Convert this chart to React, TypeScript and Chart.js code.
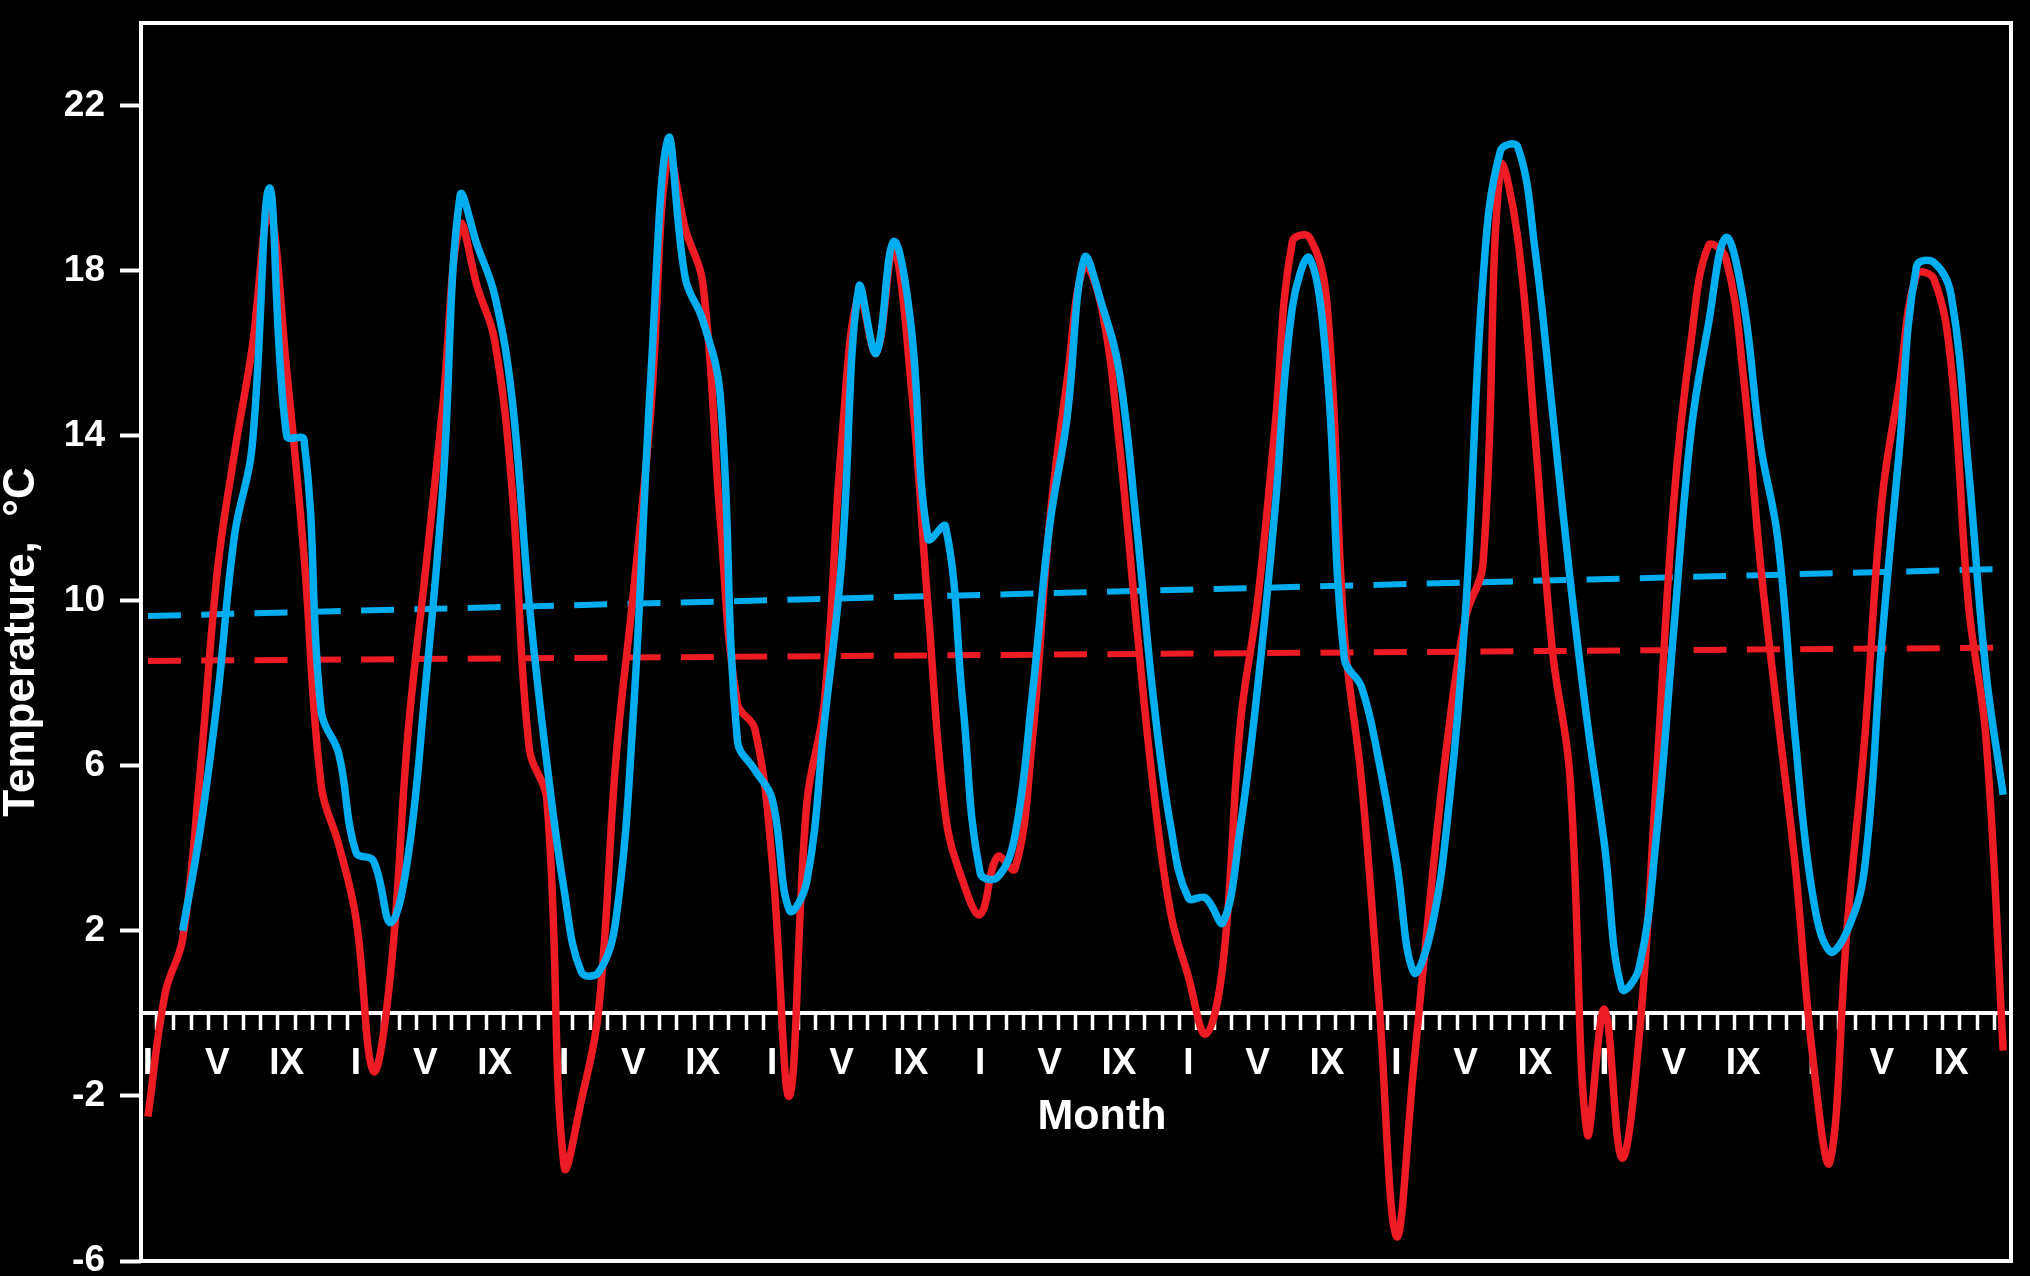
import React, { useEffect, useRef } from 'react';
import { Chart, registerables } from 'chart.js';

Chart.register(...registerables);

// ---- data ----
const monthIndex: number[] = Array.from({ length: 108 }, (_, i) => i);
const monthTickLabels = ['I', '', '', '', 'V', '', '', '', 'IX', '', '', ''];
const yTickValues = [-6, -2, 2, 6, 10, 14, 18, 22];
const xAxisTitle = 'Month';
const yAxisTitle = 'Temperature,  °C';

const redSeries: number[] = [
  -2.5, 0.5, 1.8, 5.8, 10.7, 13.6, 16.1, 19.4, 15.6, 11.1, 5.5, 4.1,
  2.3, -1.4, 1.0, 6.8, 10.7, 14.7, 19.1, 17.6, 16.3, 12.7, 6.4, 5.2,
  -3.7, -2.1, 0.1, 6.2, 10.2, 14.6, 20.8, 19.0, 17.7, 12.0, 7.5, 6.9,
  3.7, -2.0, 5.1, 7.5, 13.8, 17.4, 16.0, 18.5, 15.3, 9.8, 4.8, 3.2,
  2.4, 3.8, 3.5, 6.6, 11.9, 15.3, 18.1, 17.1, 13.9, 9.5, 5.4, 2.4,
  0.9, -0.5, 1.2, 7.0, 10.0, 14.2, 18.7, 18.8, 17.2, 9.2, 5.6, 0.3,
  -5.4, -1.3, 3.0, 6.8, 9.6, 10.9, 20.5, 18.8, 14.0, 8.8, 5.8, -2.9,
  0.1, -3.5, -0.6, 5.7, 12.4, 16.3, 18.6, 18.3, 15.5, 10.9, 7.2, 3.6,
  -1.0, -3.6, 2.1, 6.6, 12.4, 15.2, 17.9, 17.8, 15.7, 9.9, 6.7, -0.9,
];

const blueSeries: (number | null)[] = [
  null, null, 2.0, 4.4, 7.6, 11.6, 13.7, 20.0, 14.0, 13.9, 7.3, 6.3,
  3.9, 3.7, 2.2, 3.8, 7.9, 12.7, 19.8, 18.6, 17.4, 14.9, 9.9, 6.1,
  3.0, 1.0, 1.0, 2.3, 7.3, 15.4, 21.2, 17.8, 16.8, 15.0, 6.6, 5.9,
  5.2, 2.5, 3.2, 7.0, 10.9, 17.6, 16.0, 18.7, 16.7, 11.5, 11.8, 7.5,
  3.4, 3.3, 4.3, 7.7, 11.8, 14.4, 18.3, 17.2, 15.6, 11.9, 7.6, 4.5,
  2.8, 2.8, 2.2, 4.5, 7.9, 12.2, 17.1, 18.3, 15.6, 8.6, 7.9, 6.1,
  3.7, 1.0, 2.0, 4.9, 9.8, 17.8, 20.9, 21.0, 18.5, 14.6, 10.6, 7.1,
  4.1, 0.6, 1.1, 4.3, 9.3, 14.1, 16.7, 18.8, 17.3, 13.8, 11.5, 6.7,
  2.9, 1.5, 2.0, 3.5, 9.0, 13.6, 18.1, 18.2, 17.4, 13.2, 8.3, 5.3,
];

const trendMonths = [0, 107];
const redTrend = [8.54, 8.86];
const blueTrend = [9.63, 10.77];

const RED = '#ED1C24';
const BLUE = '#00AEEF';
const WHITE = '#FFFFFF';
const FONT = '"Liberation Sans", Arial, Helvetica, sans-serif';

const toPoints = (xs: number[], ys: (number | null)[]) =>
  xs.map((x, i) => ({ x, y: ys[i] })).filter((p) => p.y !== null && p.y !== undefined);

const framePlugin = {
  id: 'frame',
  beforeDatasetsDraw(chart: any) {
    const { ctx, chartArea } = chart;
    ctx.save();
    ctx.strokeStyle = WHITE;
    ctx.lineWidth = 4;
    ctx.strokeRect(chartArea.left, chartArea.top, chartArea.right - chartArea.left, chartArea.bottom - chartArea.top);
    ctx.restore();
  },
};

const monthTitlePlugin = {
  id: 'monthTitle',
  afterDraw(chart: any) {
    const { ctx, chartArea, scales } = chart;
    const y0 = scales.y.getPixelForValue(0);
    ctx.save();
    ctx.font = `bold 43px ${FONT}`;
    ctx.fillStyle = WHITE;
    ctx.textAlign = 'center';
    ctx.textBaseline = 'middle';
    ctx.fillText(xAxisTitle, (chartArea.left + chartArea.right) / 2 + 26, y0 + 104);
    ctx.restore();
  },
};

export default function App() {
  const canvasRef = useRef<HTMLCanvasElement | null>(null);

  useEffect(() => {
    if (!canvasRef.current) return;
    Chart.defaults.font.family = FONT;
    const chart = new Chart(canvasRef.current, {
      type: 'line',
      data: {
        datasets: [
          {
            label: 'Blue',
            data: toPoints(monthIndex, blueSeries),
            borderColor: BLUE,
            borderWidth: 7.5,
            pointRadius: 0,
            tension: 0.4,
            fill: false,
            order: 0,
          },
          {
            label: 'Red',
            data: toPoints(monthIndex, redSeries),
            borderColor: RED,
            borderWidth: 7.5,
            pointRadius: 0,
            tension: 0.4,
            fill: false,
            order: 1,
          },
          {
            label: 'Blue trend',
            data: toPoints(trendMonths, blueTrend),
            borderColor: BLUE,
            borderWidth: 6,
            borderDash: [33, 20.3],
            pointRadius: 0,
            fill: false,
            order: 2,
          },
          {
            label: 'Red trend',
            data: toPoints(trendMonths, redTrend),
            borderColor: RED,
            borderWidth: 6,
            borderDash: [33, 20.3],
            pointRadius: 0,
            fill: false,
            order: 3,
          },
        ],
      },
      options: {
        animation: false,
        responsive: false,
        devicePixelRatio: 1,
        layout: { padding: { left: 0, top: 23, right: 19, bottom: 15 } },
        plugins: { legend: { display: false }, tooltip: { enabled: false } },
        scales: {
          x: {
            type: 'linear',
            position: { y: 0 } as any,
            min: -0.4,
            max: 107.45,
            afterBuildTicks: (scale: any) => {
              scale.ticks = monthIndex.map((v) => ({ value: v }));
            },
            afterFit: (scale: any) => {
              scale.paddingLeft = 0;
              scale.paddingRight = 0;
            },
            ticks: {
              autoSkip: false,
              maxRotation: 0,
              minRotation: 0,
              color: WHITE,
              padding: 13,
              font: { size: 37, weight: 'bold' },
              callback: (v: any) => monthTickLabels[((Number(v) % 12) + 12) % 12],
            },
            grid: {
              display: true,
              drawOnChartArea: false,
              drawTicks: true,
              offset: true,
              tickLength: 15,
              tickWidth: 3.5,
              tickColor: WHITE,
              color: WHITE,
            },
            border: { display: true, color: WHITE, width: 4 },
          },
          y: {
            type: 'linear',
            position: 'left',
            min: -6,
            max: 24,
            afterBuildTicks: (scale: any) => {
              scale.ticks = yTickValues.map((v) => ({ value: v }));
            },
            afterFit: (scale: any) => {
              scale.width = 141;
              scale.paddingTop = 0;
              scale.paddingBottom = 0;
            },
            ticks: {
              autoSkip: false,
              color: WHITE,
              padding: 15,
              font: { size: 37, weight: 'bold' },
            },
            grid: {
              display: true,
              drawOnChartArea: false,
              drawTicks: true,
              tickLength: 21,
              tickWidth: 4,
              tickColor: WHITE,
              color: WHITE,
            },
            border: { display: false },
            title: {
              display: true,
              text: yAxisTitle,
              color: WHITE,
              font: { size: 44, weight: 'bold', lineHeight: 1 },
              padding: 0,
            },
          },
        },
      },
      plugins: [framePlugin, monthTitlePlugin],
    } as any);
    return () => chart.destroy();
  }, []);

  return (
    <div style={{ position: 'fixed', left: 0, top: 0, width: 2030, height: 1276, background: '#000' }}>
      <canvas ref={canvasRef} width={2030} height={1276} style={{ display: 'block' }} />
    </div>
  );
}
